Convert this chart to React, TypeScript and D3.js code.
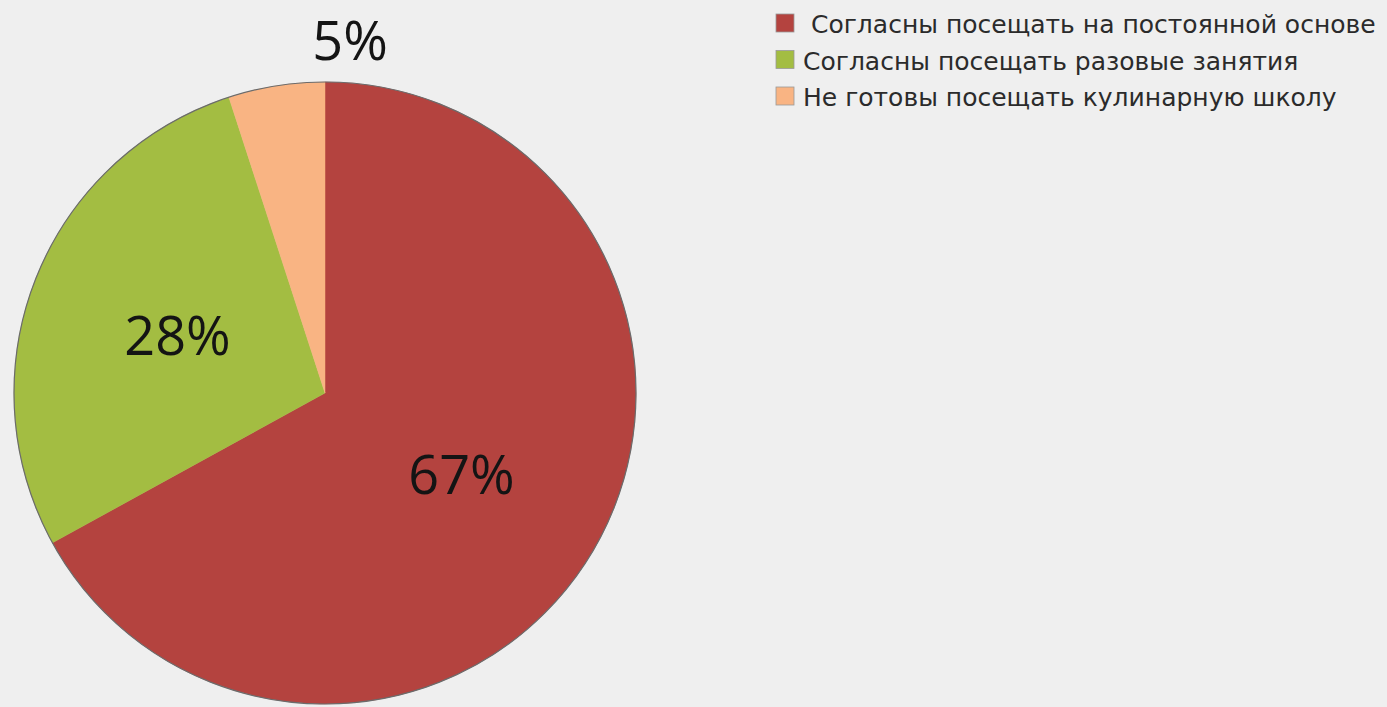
import React, { useRef, useEffect } from 'react';
import * as d3 from 'd3';

// Ответы на вопрос о кулинарной школе
const categories = [
  ' Согласны посещать на постоянной основе',
  'Согласны посещать разовые занятия',
  'Не готовы посещать кулинарную школу',
];
const values = [67, 28, 5];
const labels = ['67%', '28%', '5%'];
const colors = ['#B4433F', '#A3BD42', '#F9B483'];

const W = 1387;
const H = 707;

const App: React.FC = () => {
  const svgRef = useRef<SVGSVGElement>(null);

  useEffect(() => {
    if (!svgRef.current) return;
    const svg = d3.select(svgRef.current);
    svg.selectAll('*').remove();

    // background
    svg.append('rect')
      .attr('width', W)
      .attr('height', H)
      .attr('fill', '#EFEFEF');

    const cx = 325;
    const cy = 393;
    const r = 311;

    const data = categories.map((c, i) => ({ c, v: values[i], label: labels[i], color: colors[i] }));

    const pie = d3.pie<typeof data[number]>()
      .value(d => d.v)
      .sort(null);
    const arcs = pie(data);

    const arc = d3.arc<d3.PieArcDatum<typeof data[number]>>()
      .innerRadius(0)
      .outerRadius(r);
    const labelArc = d3.arc<d3.PieArcDatum<typeof data[number]>>()
      .innerRadius(r * 0.51)
      .outerRadius(r * 0.51);

    const g = svg.append('g').attr('transform', `translate(${cx},${cy})`);

    g.selectAll('path.slice')
      .data(arcs)
      .enter()
      .append('path')
      .attr('class', 'slice')
      .attr('d', arc)
      .attr('fill', d => d.data.color)
      .attr('stroke', d => d.data.color)
      .attr('stroke-width', 0.5);

    // thin outline round the pie
    g.append('circle')
      .attr('r', r)
      .attr('fill', 'none')
      .attr('stroke', '#6b6b6b')
      .attr('stroke-width', 1.2);

    // percentage labels; the small slice gets its label above the pie
    g.selectAll('text.pct')
      .data(arcs)
      .enter()
      .append('text')
      .attr('class', 'pct')
      .attr('transform', d => {
        if (d.data.v < 10) return `translate(25,${-r - 22})`;
        const [x, y] = labelArc.centroid(d);
        return `translate(${x},${y + 20})`;
      })
      .attr('text-anchor', 'middle')
      .style('font-family', '"Open Sans", sans-serif')
      .style('font-size', '54px')
      .style('fill', '#141414')
      .text(d => d.data.label);

    // legend
    const legend = svg.append('g').attr('transform', 'translate(776,0)');
    const rowY = d3.scalePoint<string>()
      .domain(categories)
      .range([33, 106]);

    const rows = legend.selectAll('g.row')
      .data(data)
      .enter()
      .append('g')
      .attr('class', 'row')
      .attr('transform', d => `translate(0,${rowY(d.c)})`);

    rows.append('rect')
      .attr('x', 0)
      .attr('y', -19)
      .attr('width', 18)
      .attr('height', 18)
      .attr('fill', d => d.color)
      .attr('stroke', '#9a9a9a')
      .attr('stroke-width', 0.8);

    rows.append('text')
      .attr('x', 27)
      .attr('y', 0)
      .style('white-space', 'pre')
      .style('font-family', '"DejaVu Sans", sans-serif')
      .style('font-size', '25px')
      .style('fill', '#2b2b2b')
      .text(d => d.c);
  }, []);

  return (
    <svg
      ref={svgRef}
      width={W}
      height={H}
      style={{ position: 'fixed', left: 0, top: 0, display: 'block' }}
    />
  );
};

export default App;
